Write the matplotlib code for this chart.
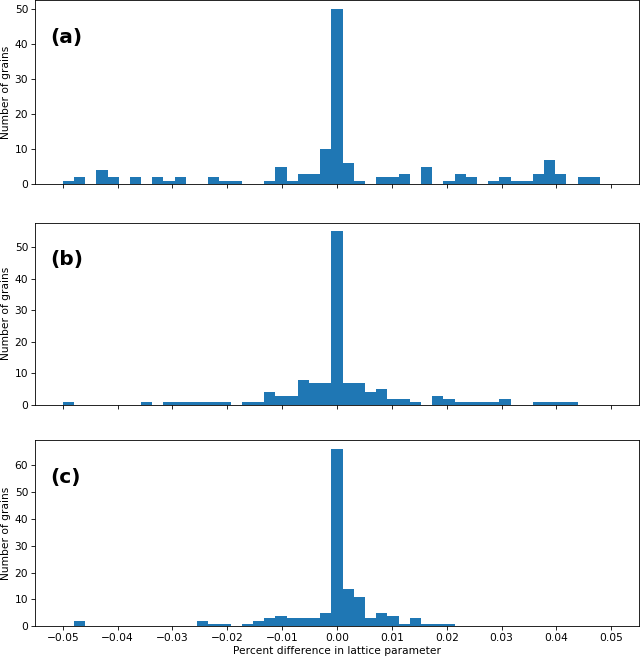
import matplotlib.pyplot as plt
import numpy as np

# bin edges of the histograms (49 bins from -0.05 to 0.05)
edges = np.linspace(-0.05, 0.05, 50)

# counts per bin
counts_a = [1, 2, 0, 4, 2, 0, 2, 0, 2, 1, 2, 0, 0, 2, 1, 1, 0, 0, 1, 5,
            1, 3, 3, 10, 50, 6, 1, 0, 2, 2, 3, 0, 5, 0, 1, 3, 2, 0, 1, 2,
            1, 1, 3, 7, 3, 0, 2, 2, 0]
counts_b = [1, 0, 0, 0, 0, 0, 0, 1, 0, 1, 1, 1, 1, 1, 1, 0, 1, 1, 4, 3,
            3, 8, 7, 7, 55, 7, 7, 4, 5, 2, 2, 1, 0, 3, 2, 1, 1, 1, 1, 2,
            0, 0, 1, 1, 1, 1, 0, 0, 0]
counts_c = [0, 2, 0, 0, 0, 0, 0, 0, 0, 0, 0, 0, 2, 1, 1, 0, 1, 2, 3, 4,
            3, 3, 3, 5, 66, 14, 11, 3, 5, 4, 1, 3, 1, 1, 1, 0, 0, 0, 0, 0,
            0, 0, 0, 0, 0, 0, 0, 0, 0]

panel_labels = ["(a)", "(b)", "(c)"]
xticks = [-0.05, -0.04, -0.03, -0.02, -0.01, 0.0, 0.01, 0.02, 0.03, 0.04, 0.05]

plt.rcParams['font.size'] = 7.7
plt.rcParams['axes.linewidth'] = 0.6
plt.rcParams['xtick.major.width'] = 0.6
plt.rcParams['ytick.major.width'] = 0.6
plt.rcParams['xtick.major.size'] = 2.6
plt.rcParams['ytick.major.size'] = 2.6
plt.rcParams['xtick.major.pad'] = 2.5
plt.rcParams['ytick.major.pad'] = 2.5

fig = plt.figure(figsize=(6.4, 6.59), dpi=100)

# axes boxes in figure fractions (left, bottom, width, height)
boxes = [
    [35.3 / 640, 1 - 184.3 / 659, 603.4 / 640, 183.8 / 659],
    [35.3 / 640, 1 - 405.0 / 659, 603.4 / 640, 182.5 / 659],
    [35.3 / 640, 1 - 626.3 / 659, 603.4 / 640, 186.3 / 659],
]

all_counts = [counts_a, counts_b, counts_c]
for i, (box, counts, lab) in enumerate(zip(boxes, all_counts, panel_labels)):
    ax = fig.add_axes(box)
    ax.hist(edges[:-1], bins=edges, weights=counts, color="#1f77b4")
    ax.set_xlim(-0.055, 0.055)
    ax.set_ylim(0, max(counts) * 1.05)
    ax.set_xticks(xticks)
    ax.set_ylabel("Number of grains", labelpad=2.5)
    ax.text(0.025, 0.8, lab, transform=ax.transAxes, fontsize=14.5,
            fontweight="bold", va="center", ha="left")
    if i < 2:
        ax.set_xticklabels([])
    else:
        ax.set_xlabel("Percent difference in lattice parameter", labelpad=2)

fig.savefig("out.png", dpi=100)
